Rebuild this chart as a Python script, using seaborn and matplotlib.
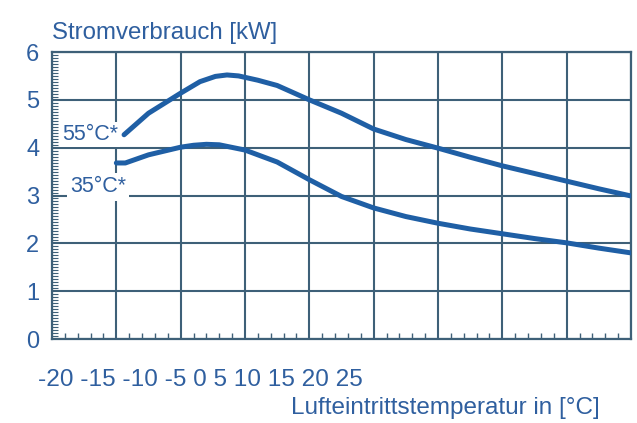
import numpy as np
import pandas as pd
import matplotlib
matplotlib.use("Agg")
import matplotlib.pyplot as plt
import seaborn as sns
from matplotlib.ticker import MultipleLocator

# Data
temp_55 = [-14.4, -12.5, -10, -8.5, -7.3, -6.4, -5.5, -4, -2.5, -1, 0, 2.5, 5, 7.5, 10, 12.5, 15, 17.5, 20, 22.5, 25]
power_55 = [4.27, 4.72, 5.14, 5.38, 5.49, 5.52, 5.50, 5.41, 5.30, 5.12, 5.0, 4.72, 4.39, 4.17, 3.99, 3.80, 3.62, 3.46, 3.30, 3.14, 2.99]
temp_35 = [-15, -14.3, -12.5, -10, -9, -8, -7, -5, -2.5, 0, 2.5, 5, 7.5, 10, 12.5, 15, 17.5, 20, 22.5, 25]
power_35 = [3.68, 3.68, 3.85, 4.01, 4.05, 4.07, 4.06, 3.95, 3.70, 3.33, 2.98, 2.74, 2.56, 2.42, 2.30, 2.20, 2.10, 2.01, 1.90, 1.80]
curve_labels = ["55°C*", "35°C*"]
x_tick_labels = ["-20", "-15", "-10", "-5", "0", "5", "10", "15", "20", "25"]
y_ticks = [0, 1, 2, 3, 4, 5, 6]

df = pd.concat([
    pd.DataFrame({"temp": temp_55, "power": power_55, "curve": curve_labels[0]}),
    pd.DataFrame({"temp": temp_35, "power": power_35, "curve": curve_labels[1]}),
])

GRID = "#3e6078"
LINE = "#1f5fa5"
TEXT = "#2f5f9f"

sns.set_theme(style="white")
plt.rcParams["font.family"] = ["Liberation Sans", "DejaVu Sans"]

fig = plt.figure(figsize=(6.37, 4.23), dpi=100)
ax = fig.add_axes([52 / 637, 1 - 339 / 423, (631 - 52) / 637, (339 - 52) / 423])

sns.lineplot(data=df, x="temp", y="power", hue="curve", palette=[LINE, LINE],
             linewidth=3.6, legend=False, sort=False, ax=ax, zorder=3)
for ln in ax.lines:
    ln.set_solid_joinstyle("round")
    ln.set_solid_capstyle("round")

ax.set_xlim(-20, 25)
ax.set_ylim(0, 6)
ax.xaxis.set_major_locator(MultipleLocator(5))
ax.xaxis.set_minor_locator(MultipleLocator(1))
ax.set_yticks(y_ticks)
ax.yaxis.set_minor_locator(MultipleLocator(0.0625))
ax.grid(True, which="major", color=GRID, linewidth=1.5)
ax.set_axisbelow(True)
for s in ax.spines.values():
    s.set_visible(True)
    s.set_color(GRID)
    s.set_linewidth(1.6)

ax.tick_params(axis="x", which="major", length=0, labelbottom=False)
ax.tick_params(axis="x", which="minor", bottom=True, direction="in", length=4, width=1, color=GRID)
ax.tick_params(axis="y", which="major", length=0, labelsize=17, labelcolor=TEXT, pad=9)
ax.tick_params(axis="y", which="minor", left=True, direction="in", length=4, width=0.8, color=GRID)
ax.set_xlabel("")
ax.set_ylabel("")

# curve labels with white boxes covering the grid
ax.text(-19.2, 4.27, curve_labels[0], fontsize=15.5, color=TEXT, va="center", ha="left",
        bbox=dict(facecolor="white", edgecolor="none", pad=1.5), zorder=2)
ax.text(-18.6, 3.18, curve_labels[1], fontsize=15.5, color=TEXT, va="center", ha="left",
        bbox=dict(facecolor="white", edgecolor="none", pad=2.5), zorder=2)

fig.text(52 / 637, 1 - 33 / 423, "Stromverbrauch [kW]", fontsize=17.3, color=TEXT,
         ha="left", va="center")
fig.text(38 / 637, 1 - 380 / 423, " ".join(x_tick_labels), fontsize=17.6, color=TEXT,
         ha="left", va="center")
fig.text(600 / 637, 1 - 408 / 423, "Lufteintrittstemperatur in [°C]", fontsize=17.5,
         color=TEXT, ha="right", va="center")

fig.savefig("out.png", dpi=100)
